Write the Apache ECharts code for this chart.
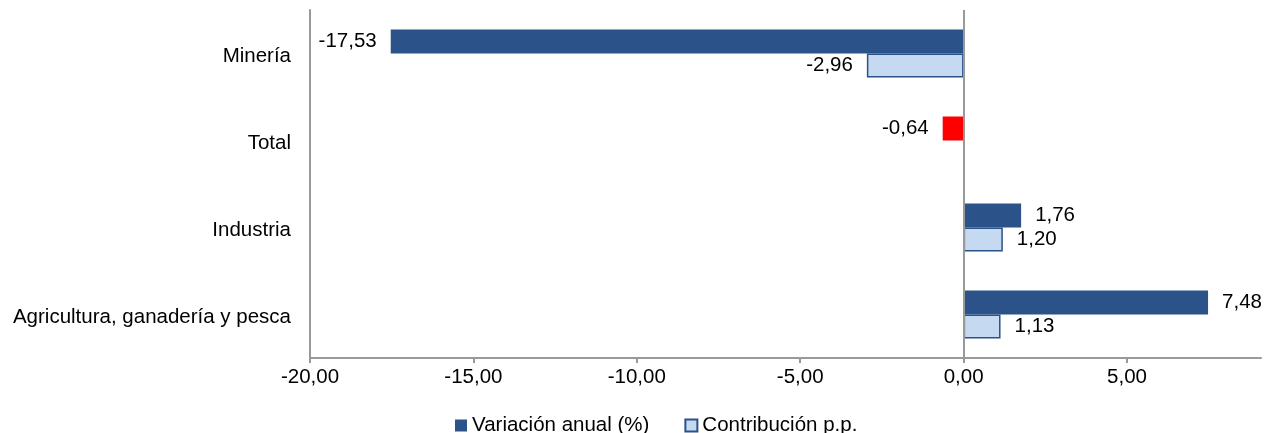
<!DOCTYPE html>
<html>
<head>
<meta charset="utf-8">
<script src="https://cdn.jsdelivr.net/npm/echarts@6/dist/echarts.min.js"></script>
<style>html,body{margin:0;padding:0;background:#fff}#c{width:1266px;height:433px}</style>
</head>
<body>
<div id="c"></div>
<script>
var categories = ['Agricultura, ganadería y pesca', 'Industria', 'Total', 'Minería'];
var variacion = [7.48, 1.76, -0.64, -17.53];
var contribucion = [1.13, 1.20, null, -2.96];
var seriesNames = ['Variación anual (%)', 'Contribución p.p.'];
var xTicks = [-20, -15, -10, -5, 0, 5];

var FONT = "'Liberation Sans', Arial, sans-serif";
var FS = 20.5;
var DARK = '#2B5289';
var LIGHT = '#C5D9F1';
var RED = '#FF0000';

function fmt(v) { return Number(v).toFixed(2).replace('.', ','); }
function items(arr, highlight) {
  return arr.map(function (v, i) {
    if (v === null) return '-';
    var it = { value: v, label: { position: v < 0 ? 'left' : 'right' } };
    if (highlight && categories[i] === 'Total') it.itemStyle = { color: RED };
    return it;
  });
}

var chart = echarts.init(document.getElementById('c'), null, { renderer: 'canvas' });
chart.setOption({
  animation: false,
  grid: { left: 310, right: 5, top: 10, bottom: 75, containLabel: false },
  legend: {
    left: 455, top: 415, padding: 0,
    itemWidth: 12, itemHeight: 12, itemGap: 35,
    textStyle: { fontFamily: FONT, fontSize: FS, color: '#000' },
    data: [
      { name: seriesNames[0], icon: 'rect' },
      { name: seriesNames[1], icon: 'rect' }
    ]
  },
  xAxis: {
    type: 'value', min: -20, max: 9.1, interval: 5,
    axisLine: { show: true, lineStyle: { color: '#999', width: 2 } },
    axisTick: { show: true, length: 5, lineStyle: { color: '#999', width: 2 } },
    splitLine: { show: false },
    axisLabel: {
      margin: 9, fontFamily: FONT, fontSize: FS, color: '#000',
      showMaxLabel: false,
      formatter: function (v) { return xTicks.indexOf(v) >= 0 ? fmt(v) : ''; }
    }
  },
  yAxis: {
    type: 'category', data: categories,
    axisLine: { show: true, onZero: false, lineStyle: { color: '#999', width: 2 } },
    axisTick: { show: false },
    axisLabel: {
      margin: 19, fontFamily: FONT, fontSize: FS, color: '#000',
      formatter: function (v) { return '{a|' + v + '}'; },
      rich: { a: { fontFamily: FONT, fontSize: FS, color: '#000', padding: [6, 0, 0, 0] } }
    }
  },
  series: [
    {
      name: seriesNames[0], type: 'bar', barWidth: 24, barGap: '0%',
      itemStyle: { color: DARK },
      label: { show: true, distance: 14, fontFamily: FONT, fontSize: FS, color: '#000',
        formatter: function (p) { return fmt(p.value); } },
      data: items(variacion, true),
      markLine: {
        silent: true, symbol: ['none', 'none'], label: { show: false },
        lineStyle: { color: '#999', width: 2, type: 'solid' },
        data: [{ xAxis: 0 }]
      }
    },
    {
      name: seriesNames[1], type: 'bar', barWidth: 24, barGap: '0%',
      itemStyle: { color: LIGHT, borderColor: DARK, borderWidth: 1.5 },
      label: { show: true, distance: 14, fontFamily: FONT, fontSize: FS, color: '#000',
        formatter: function (p) { return fmt(p.value); } },
      data: items(contribucion, false)
    }
  ]
});
</script>
</body>
</html>
